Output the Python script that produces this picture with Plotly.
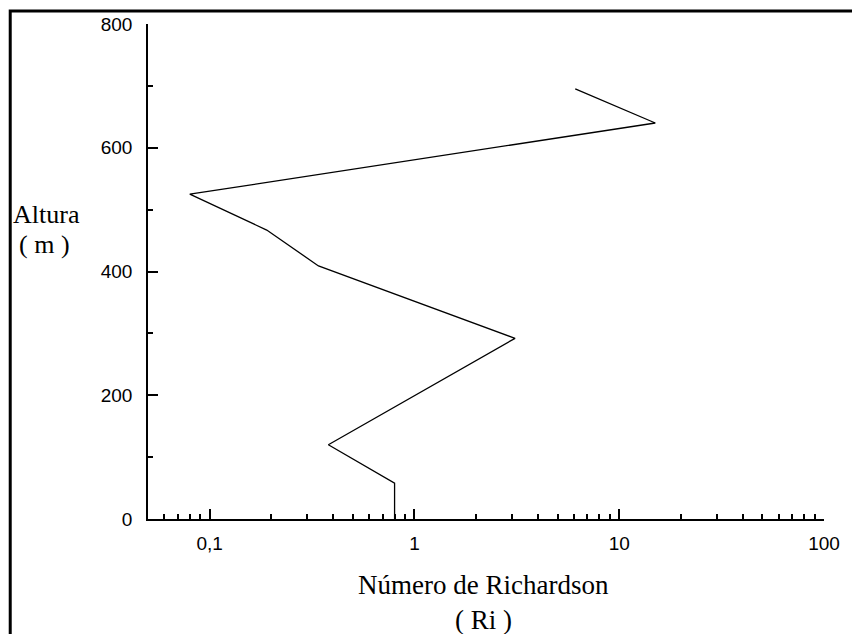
import plotly.graph_objects as go

# Data (Richardson number vs height)
ri_values = [0.8, 0.8, 0.38, 3.1, 0.34, 0.19, 0.08, 15.0, 6.1]
heights = [0, 58, 120, 292, 409, 467, 525, 640, 695]

x_tickvals = [0.1, 1, 10, 100]
x_ticktext = ["0,1", "1", "10", "100"]
x_minor = [0.06, 0.07, 0.08, 0.09,
           0.2, 0.3, 0.4, 0.5, 0.6, 0.7, 0.8, 0.9,
           2, 3, 4, 5, 6, 7, 8, 9,
           20, 30, 40, 50, 60, 70, 80, 90]
y_tickvals = [0, 200, 400, 600, 800]
y_minor = [100, 300, 500, 700]

fig = go.Figure()
fig.add_trace(go.Scatter(x=ri_values, y=heights, mode="lines",
                         line=dict(color="black", width=1.3),
                         showlegend=False, hoverinfo="skip"))

tickfont = dict(family="Liberation Sans, Arial", size=19, color="black")
titlefont = dict(family="Liberation Serif, Times New Roman", size=27, color="black")
titlefont2 = dict(family="Liberation Serif, Times New Roman", size=26, color="black")

fig.update_xaxes(type="log", range=[-1.301, 2.0],
                 tickvals=x_tickvals, ticktext=x_ticktext,
                 ticks="inside", ticklen=10, tickwidth=2, tickcolor="black",
                 minor=dict(tickvals=x_minor, ticks="inside", ticklen=5, tickwidth=1.5,
                            tickcolor="black", showgrid=False),
                 showline=True, linecolor="black", linewidth=1.5,
                 showgrid=False, zeroline=False, tickfont=tickfont,
                 ticklabelstandoff=6)
fig.update_yaxes(range=[0, 800], tickvals=y_tickvals,
                 ticks="inside", ticklen=10, tickwidth=2, tickcolor="black",
                 minor=dict(tickvals=y_minor, ticks="inside", ticklen=5,
                            tickwidth=1.5, tickcolor="black", showgrid=False),
                 showline=True, linecolor="black", linewidth=1.5,
                 showgrid=False, zeroline=False, tickfont=tickfont,
                 ticklabelstandoff=10)

W, H = 852, 634
L, R, T, B = 148, 22, 24, 115
pw, ph = W - L - R, H - T - B

def px(x):
    return (x - L) / pw

def py(y):
    return (H - B - y) / ph

# frame lines (top and left)
fig.add_shape(type="path", xref="paper", yref="paper",
              path=f"M {px(9)} {py(700)} L {px(9)} {py(11)} L {px(900)} {py(11)}",
              line=dict(color="black", width=3))

annos = [
    ("Altura", 10, 214, "left", titlefont2),
    ("( m )", 16, 244, "left", titlefont2),
    ("Número de Richardson", 486, 585, "center", titlefont),
    ("( Ri )", 486, 620, "center", titlefont),
]
for txt, x, y, anc, f in annos:
    fig.add_annotation(text=txt, xref="paper", yref="paper", x=px(x), y=py(y),
                       xanchor=anc, yanchor="middle", showarrow=False, font=f)

fig.update_layout(width=W, height=H, margin=dict(l=L, r=R, t=T, b=B),
                  paper_bgcolor="white", plot_bgcolor="white")

fig.write_html("out.html", config={"displayModeBar": False},
               post_script="document.body.style.margin='0';document.body.style.overflow='hidden';")
